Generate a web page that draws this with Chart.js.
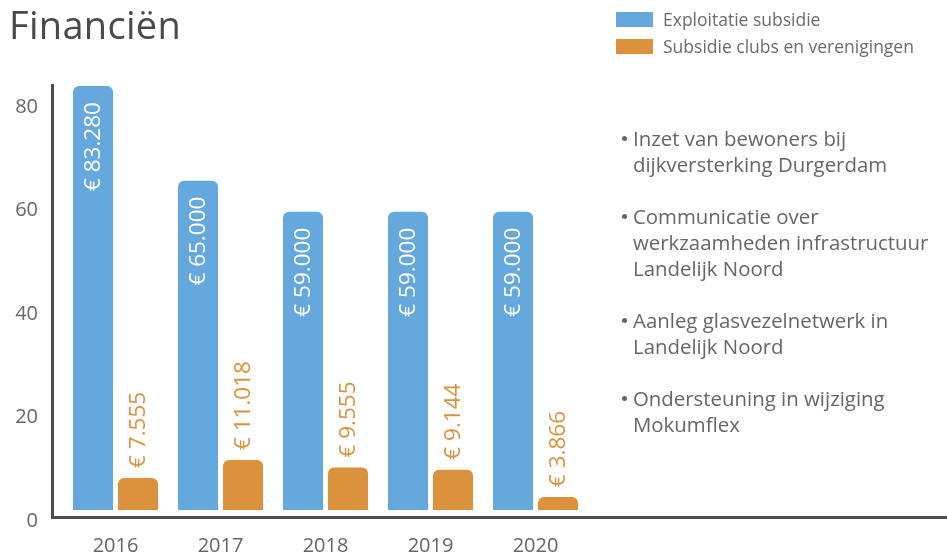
<!DOCTYPE html>
<html>
<head>
<meta charset="utf-8">
<script src="https://cdn.jsdelivr.net/npm/chart.js@4.4.1/dist/chart.umd.min.js"></script>
<style>
html,body{margin:0;padding:0;background:#fff;}
#wrap{position:relative;width:947px;height:558px;overflow:hidden;font-family:"Open Sans",Lato,sans-serif;}
#c{position:absolute;left:0;top:0;}
#title{position:absolute;left:9px;top:0px;font-size:38px;line-height:48px;color:#4a4a4a;white-space:nowrap;letter-spacing:0.3px;}
#legend{position:absolute;left:616px;top:12px;}
.lg{position:relative;height:27px;white-space:nowrap;}
.sw{position:absolute;left:0;top:0;width:37px;height:15px;}
.lt{position:absolute;left:47px;top:-4px;font-size:17.5px;line-height:23px;color:#6b6b6b;}
#bullets{position:absolute;left:633px;top:125px;font-size:20.4px;line-height:26px;color:#666;}
.bi{position:relative;margin-bottom:26px;white-space:nowrap;}
.bi::before{content:"";position:absolute;left:-11px;top:11px;width:5px;height:5px;border-radius:3px;background:#666;}
</style>
</head>
<body>
<div id="wrap">
<canvas id="c" width="947" height="558"></canvas>
<div id="title">Financiën</div>
<div id="legend"></div>
<div id="bullets"></div>
</div>
<script>
// ---- data ----
const years = [2016, 2017, 2018, 2019, 2020];
const exploitatieSubsidie = [83.28, 65.0, 59.0, 59.0, 59.0];      // x € 1.000
const subsidieClubs = [7.555, 11.018, 9.555, 9.144, 3.866];       // x € 1.000
const yTicks = [0, 20, 40, 60, 80];
const seriesNames = ['Exploitatie subsidie', 'Subsidie clubs en verenigingen'];
const bulletLines = [
  ['Inzet van bewoners bij', 'dijkversterking Durgerdam'],
  ['Communicatie over', 'werkzaamheden infrastructuur', 'Landelijk Noord'],
  ['Aanleg glasvezelnetwerk in', 'Landelijk Noord'],
  ['Ondersteuning in wijziging', 'Mokumflex']
];

const BLUE = '#64a8de';
const ORANGE = '#dc913d';
const FONT = '"Open Sans", Lato, sans-serif';

// legend + bullets (text)
const legendEl = document.getElementById('legend');
[BLUE, ORANGE].forEach((col, i) => {
  const d = document.createElement('div'); d.className = 'lg';
  d.innerHTML = '<div class="sw" style="background:' + col + '"></div><div class="lt"></div>';
  d.querySelector('.lt').textContent = seriesNames[i];
  legendEl.appendChild(d);
});
const bEl = document.getElementById('bullets');
bulletLines.forEach(lines => {
  const d = document.createElement('div'); d.className = 'bi';
  d.innerHTML = lines.map(l => l.replace(/&/g,'&amp;')).join('<br>');
  bEl.appendChild(d);
});

function fmtEuro(v) {
  const n = Math.round(v * 1000).toString();
  return '€ ' + n.replace(/\B(?=(\d{3})+(?!\d))/g, '.');
}

const vLabels = {
  id: 'vLabels',
  afterDatasetsDraw(chart) {
    const ctx = chart.ctx;
    chart.data.datasets.forEach((ds, di) => {
      const meta = chart.getDatasetMeta(di);
      meta.data.forEach((bar, i) => {
        const txt = fmtEuro(ds.data[i].y);
        ctx.save();
        ctx.font = '22.5px ' + FONT;
        ctx.textBaseline = 'middle';
        if (di === 0) {
          ctx.fillStyle = '#ffffff';
          ctx.translate(bar.x + 1, bar.y + 16);
          ctx.rotate(-Math.PI / 2);
          ctx.textAlign = 'right';
        } else {
          ctx.fillStyle = ORANGE;
          ctx.translate(bar.x + 1, bar.y - 10);
          ctx.rotate(-Math.PI / 2);
          ctx.textAlign = 'left';
        }
        ctx.fillText(txt, 0, 0);
        ctx.restore();
      });
    });
  }
};

new Chart(document.getElementById('c'), {
  type: 'bar',
  data: {
    datasets: [
      {
        label: seriesNames[0],
        data: years.map((y, i) => ({ x: y, y: exploitatieSubsidie[i] })),
        backgroundColor: BLUE,
        borderRadius: { topLeft: 6, topRight: 6, bottomLeft: 0, bottomRight: 0 },
        borderSkipped: false,
        base: 1.35
      },
      {
        label: seriesNames[1],
        data: years.map((y, i) => ({ x: y, y: subsidieClubs[i] })),
        backgroundColor: ORANGE,
        borderRadius: { topLeft: 6, topRight: 6, bottomLeft: 0, bottomRight: 0 },
        borderSkipped: false,
        base: 1.35
      }
    ]
  },
  options: {
    responsive: false,
    animation: false,
    layout: { padding: { top: 85, left: 0, right: 0, bottom: 0 } },
    datasets: { bar: { categoryPercentage: 0.857, barPercentage: 0.889 } },
    plugins: { legend: { display: false }, tooltip: { enabled: false }, title: { display: false } },
    scales: {
      x: {
        type: 'linear',
        offset: false,
        min: 2015.395,
        max: 2023.919,
        grid: { display: false, drawTicks: false, offset: false },
        border: { display: true, width: 3, color: '#4d4d4d' },
        ticks: { color: '#666', font: { family: FONT, size: 20 }, padding: 17, callback: v => String(v) },
        afterBuildTicks: s => { s.ticks = years.map(v => ({ value: v })); },
        afterFit: s => { s.height = 41; }
      },
      y: {
        min: 0,
        max: 83.48,
        grid: { display: false, drawTicks: false },
        border: { display: true, width: 3, color: '#4d4d4d' },
        ticks: { color: '#666', font: { family: FONT, size: 20 }, padding: 14, labelOffset: 4 },
        afterBuildTicks: s => { s.ticks = yTicks.map(v => ({ value: v })); },
        afterFit: s => { s.width = 52; }
      }
    }
  },
  plugins: [vLabels]
});
</script>
</body>
</html>
